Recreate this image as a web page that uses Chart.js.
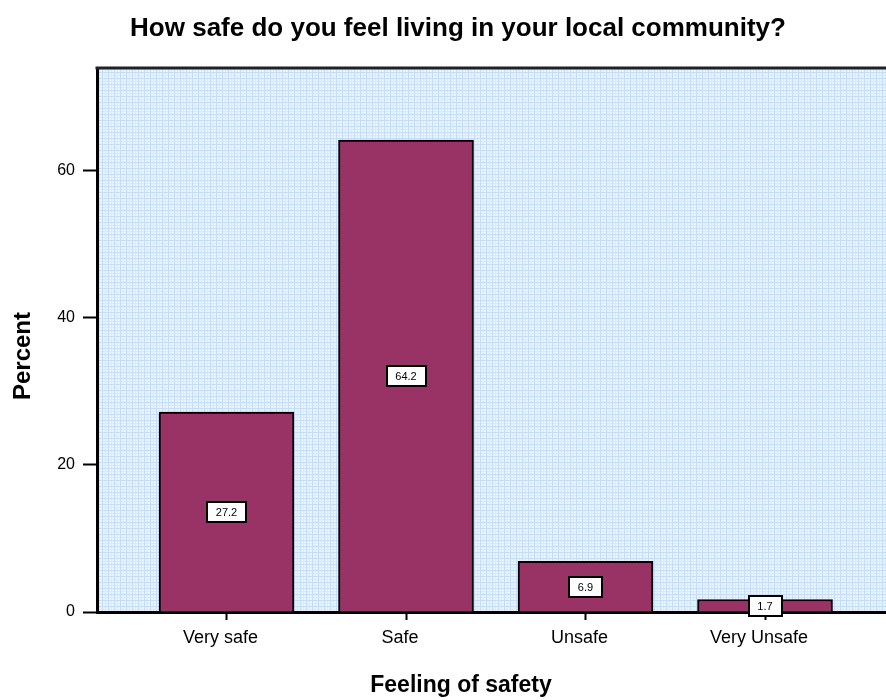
<!DOCTYPE html>
<html>
<head>
<meta charset="utf-8">
<script src="https://cdn.jsdelivr.net/npm/chart.js@4/dist/chart.umd.min.js"></script>
<style>
  html, body { margin: 0; padding: 0; background: #fff; overflow: hidden; }
  canvas { display: block; }
</style>
</head>
<body>
<canvas id="chart" width="886" height="700"></canvas>
<script>
const categories = ['Very safe', 'Safe', 'Unsafe', 'Very Unsafe'];
const positions  = [1, 2, 3, 4];
const percents   = [27.2, 64.2, 6.9, 1.7];
const yTicks     = [0, 20, 40, 60];

const titleText = 'How safe do you feel living in your local community?';
const xTitle = 'Feeling of safety';
const yTitle = 'Percent';

const FONT = 'Arial, "Liberation Sans", sans-serif';

// light blue graph-paper fill for the plot area
function makeGridPattern(ctx) {
  const tile = document.createElement('canvas');
  tile.width = 6; tile.height = 6;
  const t = tile.getContext('2d');
  t.fillStyle = '#eaf4ff';
  t.fillRect(0, 0, 6, 6);
  t.fillStyle = '#d9eaff';
  t.fillRect(3, 0, 1, 6);
  t.fillRect(0, 3, 6, 1);
  t.fillStyle = '#c2ddff';
  t.fillRect(0, 0, 1, 6);
  t.fillRect(0, 0, 6, 1);
  return ctx.createPattern(tile, 'repeat');
}

const plotBackground = {
  id: 'plotBackground',
  beforeDraw(chart) {
    const { ctx, chartArea: a } = chart;
    ctx.save();
    ctx.fillStyle = makeGridPattern(ctx);
    ctx.fillRect(a.left, a.top, a.right - a.left, a.bottom - a.top);
    ctx.restore();
  }
};

// boxed value labels, centred at half the bar height
const valueBoxes = {
  id: 'valueBoxes',
  afterDatasetsDraw(chart) {
    const { ctx } = chart;
    const yScale = chart.scales.y;
    const meta = chart.getDatasetMeta(0);
    ctx.save();
    ctx.font = '11px ' + FONT;
    ctx.textAlign = 'center';
    ctx.textBaseline = 'middle';
    meta.data.forEach((bar, i) => {
      const v = percents[i];
      const label = v.toFixed(1);
      const cy = yScale.getPixelForValue(v / 2);
      const w = Math.round(ctx.measureText(label).width) + 18;
      const h = 20;
      const x0 = Math.round(bar.x - w / 2);
      const y0 = Math.round(cy - h / 2);
      ctx.fillStyle = '#fff';
      ctx.fillRect(x0, y0, w, h);
      ctx.lineWidth = 2;
      ctx.strokeStyle = '#000';
      ctx.strokeRect(x0, y0, w, h);
      ctx.fillStyle = '#000';
      ctx.fillText(label, bar.x, cy + 1);
    });
    ctx.restore();
  }
};

const frameAndTitles = {
  id: 'frameAndTitles',
  afterDraw(chart) {
    const { ctx, chartArea: a } = chart;
    ctx.save();
    ctx.strokeStyle = '#222';
    ctx.lineWidth = 3;
    ctx.beginPath();
    ctx.moveTo(a.left - 1.5, a.top);
    ctx.lineTo(a.right, a.top);
    ctx.stroke();

    ctx.fillStyle = '#000';
    ctx.textAlign = 'center';
    ctx.textBaseline = 'middle';
    ctx.font = 'bold 26px ' + FONT;
    ctx.fillText(titleText, 458, 29);
    ctx.font = 'bold 23px ' + FONT;
    ctx.fillText(xTitle, 461, 686);
    ctx.translate(23, 356);
    ctx.rotate(-Math.PI / 2);
    ctx.font = 'bold 24px ' + FONT;
    ctx.fillText(yTitle, 0, 0);
    ctx.restore();
  }
};

new Chart(document.getElementById('chart'), {
  type: 'bar',
  data: {
    datasets: [{
      label: yTitle,
      data: positions.map((p, i) => ({ x: p, y: percents[i] })),
      backgroundColor: '#993366',
      borderColor: '#000',
      borderWidth: 2,
      barThickness: 135,
    }]
  },
  options: {
    responsive: false,
    animation: false,
    layout: { padding: { top: 68, left: 0, right: 0, bottom: 0 } },
    plugins: { legend: { display: false }, tooltip: { enabled: false } },
    scales: {
      x: {
        type: 'linear',
        offset: false,
        min: 0.2785,
        max: 4.674,
        afterFit(scale) { scale.height = 88; },
        afterBuildTicks(scale) { scale.ticks = positions.map(v => ({ value: v })); },
        grid: { offset: false, drawOnChartArea: false, drawTicks: true, tickLength: 8, tickWidth: 2, tickColor: '#000' },
        border: { display: true, color: '#000', width: 3 },
        ticks: {
          color: '#000',
          padding: 7,
          labelOffset: -6,
          maxRotation: 0,
          font: { family: FONT, size: 18 },
          callback: v => categories[v - 1] || ''
        }
      },
      y: {
        min: 0,
        max: 74,
        afterFit(scale) { scale.width = 97; },
        afterBuildTicks(scale) { scale.ticks = yTicks.map(v => ({ value: v })); },
        grid: { drawOnChartArea: false, drawTicks: true, tickLength: 14, tickWidth: 2, tickColor: '#000' },
        border: { display: true, color: '#000', width: 3 },
        ticks: { color: '#000', padding: 8, font: { family: FONT, size: 16 } }
      }
    }
  },
  plugins: [plotBackground, valueBoxes, frameAndTitles]
});
</script>
</body>
</html>
